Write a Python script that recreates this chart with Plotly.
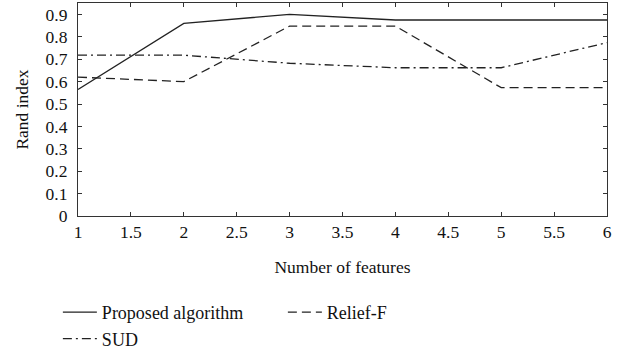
import plotly.graph_objects as go

features = [1, 2, 3, 4, 5, 6]
proposed = [0.565, 0.86, 0.90, 0.875, 0.875, 0.875]
relief_f = [0.62, 0.60, 0.848, 0.848, 0.573, 0.573]
sud = [0.718, 0.718, 0.682, 0.662, 0.662, 0.774]
x_ticks = [1, 1.5, 2, 2.5, 3, 3.5, 4, 4.5, 5, 5.5, 6]
y_ticks = [0, 0.1, 0.2, 0.3, 0.4, 0.5, 0.6, 0.7, 0.8, 0.9]

font = "Liberation Serif"
fs = 17.5

fig = go.Figure()
fig.add_trace(go.Scatter(x=features, y=proposed, mode="lines", name="Proposed algorithm",
                         line=dict(color="#222", width=1.3, dash="solid")))
fig.add_trace(go.Scatter(x=features, y=relief_f, mode="lines", name="Relief-F",
                         line=dict(color="#222", width=1.3, dash="9px,5px")))
fig.add_trace(go.Scatter(x=features, y=sud, mode="lines", name="SUD",
                         line=dict(color="#222", width=1.3, dash="9px,4px,2px,4px")))

axis_common = dict(showgrid=False, zeroline=False, showline=True, linecolor="#333", linewidth=1.2,
                   mirror="ticks", ticks="inside", ticklen=4, tickcolor="#333", automargin=False,
                   tickfont=dict(family=font, size=fs, color="#111"))

fig.update_layout(
    width=629, height=355,
    margin=dict(l=78, r=22, t=3, b=139),
    paper_bgcolor="white", plot_bgcolor="white",
    font=dict(family=font, size=fs, color="#111"),
    xaxis=dict(range=[1, 6], tickvals=x_ticks, ticktext=[str(v) for v in x_ticks],
               ticklabelstandoff=0,
               title=dict(text="Number of features", font=dict(family=font, size=fs), standoff=19),
               **axis_common),
    yaxis=dict(range=[0, 0.951], tickvals=y_ticks, ticktext=[("%g" % v) for v in y_ticks],
               ticklabelstandoff=6,
               title=dict(text="Rand index", font=dict(family=font, size=fs), standoff=12),
               **axis_common),
    legend=dict(orientation="h", x=0.092, xref="container", xanchor="left",
                y=0.172, yref="container", yanchor="top",
                entrywidth=176, entrywidthmode="pixels", tracegroupgap=0,
                font=dict(family=font, size=18, color="#111"), itemwidth=34,
                bgcolor="rgba(0,0,0,0)"),
    showlegend=True,
)

fig.write_html("out.html")
